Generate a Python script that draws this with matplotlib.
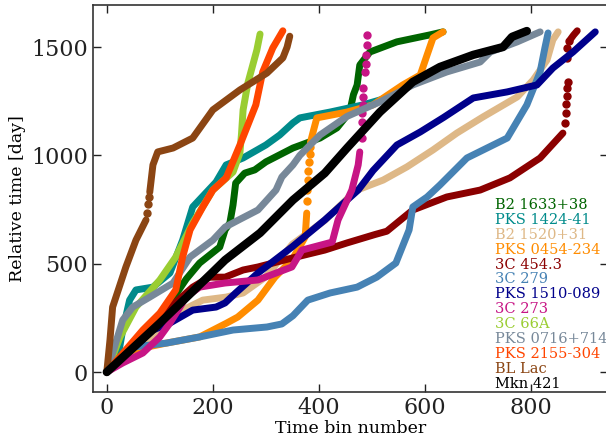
import matplotlib
matplotlib.use("Agg")
import matplotlib.pyplot as plt
import numpy as np

plt.rcParams['font.family'] = ['DejaVu Serif']

names = ["B2 1633+38", "PKS 1424-41", "B2 1520+31", "PKS 0454-234", "3C 454.3",
         "3C 279", "PKS 1510-089", "3C 273", "3C 66A", "PKS 0716+714",
         "PKS 2155-304", "BL Lac", "Mkn 421"]
colors = ["darkgreen", "darkcyan", "burlywood", "darkorange", "darkred",
          "steelblue", "darkblue", "mediumvioletred", "yellowgreen", "lightslategray",
          "orangered", "saddlebrown", "black"]

# B2 1633+38
b2_1633_x = [0, 50, 100, 150, 175, 213, 223, 232, 238, 243, 260, 279, 300, 351, 402, 434, 458, 465, 472, 477, 496, 547, 609, 634]
b2_1633_y = [0, 120, 250, 430, 503, 577, 656, 688, 771, 872, 918, 933, 970, 1034, 1080, 1127, 1200, 1280, 1325, 1417, 1477, 1524, 1556, 1570]
# PKS 1424-41
pks1424_x = [0, 21, 30, 43, 55, 87, 119, 143, 162, 206, 225, 257, 300, 326, 351, 364, 421, 483, 528, 550]
pks1424_y = [0, 69, 194, 332, 379, 392, 457, 609, 762, 877, 956, 988, 1048, 1094, 1150, 1173, 1200, 1233, 1265, 1290]
# B2 1520+31
b2_1520_x = [0, 60, 120, 143, 181, 225, 257, 300, 350, 411, 460, 472, 521, 566, 615, 660, 709, 774, 804, 830, 841, 851]
b2_1520_y = [0, 110, 230, 286, 332, 346, 365, 440, 590, 700, 815, 840, 886, 947, 1025, 1103, 1177, 1270, 1348, 1440, 1533, 1570]
# PKS 0454-234 (line, jump of separate points, line)
pks0454_x1 = [0, 49, 113, 175, 226, 247, 285, 317, 349, 374, 377]
pks0454_y1 = [0, 102, 134, 162, 226, 254, 332, 438, 517, 623, 734]
pks0454_dx = [377, 378, 379, 380, 382, 383, 383]
pks0454_dy = [790, 840, 886, 930, 970, 1005, 1040]
pks0454_x2 = [384, 389, 396, 453, 502, 558, 591, 604, 615, 634]
pks0454_y2 = [1060, 1108, 1173, 1200, 1233, 1325, 1371, 1464, 1542, 1570]
# 3C 454.3
c454_x1 = [0, 60, 120, 162, 194, 223, 257, 285, 349, 411, 453, 506, 528, 577, 641, 704, 760, 817, 860]
c454_y1 = [0, 150, 300, 392, 438, 438, 471, 485, 526, 563, 596, 635, 650, 748, 808, 840, 896, 988, 1103]
c454_dx = [863, 865, 866, 867, 868, 870, 868, 868, 872]
c454_dy = [1150, 1195, 1235, 1275, 1310, 1340, 1450, 1496, 1530]
c454_x2 = [874, 880, 887]
c454_y2 = [1535, 1555, 1575]
# 3C 279
c279_x = [0, 25, 49, 113, 175, 238, 302, 330, 351, 379, 421, 472, 509, 545, 570, 577, 604, 628, 679, 755, 792, 817, 826, 832]
c279_y = [0, 55, 115, 134, 162, 194, 208, 222, 260, 332, 365, 392, 438, 503, 656, 762, 808, 863, 988, 1080, 1233, 1385, 1496, 1565]
# PKS 1510-089
pks1510_x = [0, 50, 87, 119, 162, 206, 223, 243, 285, 349, 411, 474, 502, 547, 591, 635, 691, 755, 811, 841, 879, 921]
pks1510_y = [0, 110, 194, 226, 286, 300, 319, 365, 457, 577, 702, 840, 930, 1048, 1108, 1175, 1265, 1293, 1325, 1403, 1477, 1570]
# 3C 273
c273_x1 = [0, 30, 68, 100, 119, 138, 149, 175, 223, 285, 349, 368, 425, 436, 462, 474, 477]
c273_y1 = [0, 42, 88, 162, 226, 300, 346, 392, 411, 425, 485, 563, 600, 702, 840, 956, 1016]
c273_dx = [481, 481, 482, 483, 483, 484, 487, 488, 489, 490, 490]
c273_dy = [1080, 1154, 1195, 1233, 1270, 1311, 1385, 1420, 1464, 1510, 1556]
# 3C 66A
c66a_x = [0, 25, 55, 100, 130, 162, 200, 238, 251, 254, 257, 266, 283, 289]
c66a_y = [0, 162, 300, 425, 531, 688, 840, 923, 1011, 1100, 1210, 1334, 1487, 1560]
# PKS 0716+714
pks0716_x = [0, 15, 30, 49, 81, 125, 157, 200, 223, 251, 285, 319, 330, 351, 364, 402, 453, 515, 577, 641, 704, 723, 774, 817]
pks0716_y = [0, 120, 240, 300, 346, 411, 531, 609, 669, 705, 748, 840, 900, 956, 1000, 1094, 1180, 1247, 1325, 1385, 1431, 1477, 1524, 1570]
# PKS 2155-304
pks2155_x = [0, 68, 100, 130, 143, 157, 181, 200, 225, 251, 281, 294, 313, 332]
pks2155_y = [0, 194, 272, 379, 531, 656, 762, 840, 896, 1048, 1233, 1385, 1496, 1575]
# BL Lac
bllac_x1 = [0, 6, 11, 36, 55, 74]
bllac_y1 = [0, 148, 300, 485, 609, 702]
bllac_dx = [76, 78, 80]
bllac_dy = [735, 775, 810]
bllac_x2 = [81, 87, 96, 125, 162, 200, 251, 302, 332, 340, 345]
bllac_y2 = [830, 956, 1016, 1034, 1080, 1210, 1302, 1380, 1450, 1500, 1550]
# Mkn 421
mkn421_x = [0, 100, 200, 223, 289, 351, 411, 453, 515, 577, 628, 691, 747, 764, 792]
mkn421_y = [0, 226, 462, 517, 642, 794, 918, 1034, 1200, 1339, 1408, 1464, 1500, 1547, 1574]

series = [
    ([(b2_1633_x, b2_1633_y)], None),
    ([(pks1424_x, pks1424_y)], None),
    ([(b2_1520_x, b2_1520_y)], None),
    ([(pks0454_x1, pks0454_y1), (pks0454_x2, pks0454_y2)], (pks0454_dx, pks0454_dy)),
    ([(c454_x1, c454_y1), (c454_x2, c454_y2)], (c454_dx, c454_dy)),
    ([(c279_x, c279_y)], None),
    ([(pks1510_x, pks1510_y)], None),
    ([(c273_x1, c273_y1)], (c273_dx, c273_dy)),
    ([(c66a_x, c66a_y)], None),
    ([(pks0716_x, pks0716_y)], None),
    ([(pks2155_x, pks2155_y)], None),
    ([(bllac_x1, bllac_y1), (bllac_x2, bllac_y2)], (bllac_dx, bllac_dy)),
    ([(mkn421_x, mkn421_y)], None),
]

fig = plt.figure(figsize=(6.06, 4.45), dpi=100)
ax = fig.add_axes([93/606, 53/445, 515/606, 387/445])

handles = []
for (segs, dots), name, col in zip(series, names, colors):
    lw = 6.0 if col == "black" else 5.0
    h = None
    for sx, sy in segs:
        ln, = ax.plot(sx, sy, '-', color=col, lw=lw, solid_capstyle='round',
                      solid_joinstyle='round')
        if h is None:
            h = ln
    if dots is not None:
        ax.plot(dots[0], dots[1], 'o', color=col, ms=5, mec=col)
    h.set_label(name)
    handles.append(h)

ax.set_xlim(-26, 945)
ax.set_ylim(-92, 1694)
ax.set_xticks([0, 200, 400, 600, 800])
ax.set_yticks([0, 500, 1000, 1500])
ax.tick_params(direction='in', length=6, width=1, top=True, right=True,
               labelsize=16, colors='#222222')
for s in ax.spines.values():
    s.set_color('#333333')
    s.set_linewidth(1.2)
ax.set_xlabel("Time bin number", fontsize=12.5, labelpad=1)
ax.set_ylabel("Relative time [day]", fontsize=12.5, labelpad=4)

leg = ax.legend(handles=handles, loc='lower left', bbox_to_anchor=(0.778, 0.0),
                frameon=False, handlelength=0, handletextpad=0, borderpad=0,
                borderaxespad=0.1, labelspacing=0.06, fontsize=10.5,
                labelcolor='linecolor')
for h in leg.legend_handles:
    h.set_visible(False)

fig.savefig("out.png", dpi=100)
